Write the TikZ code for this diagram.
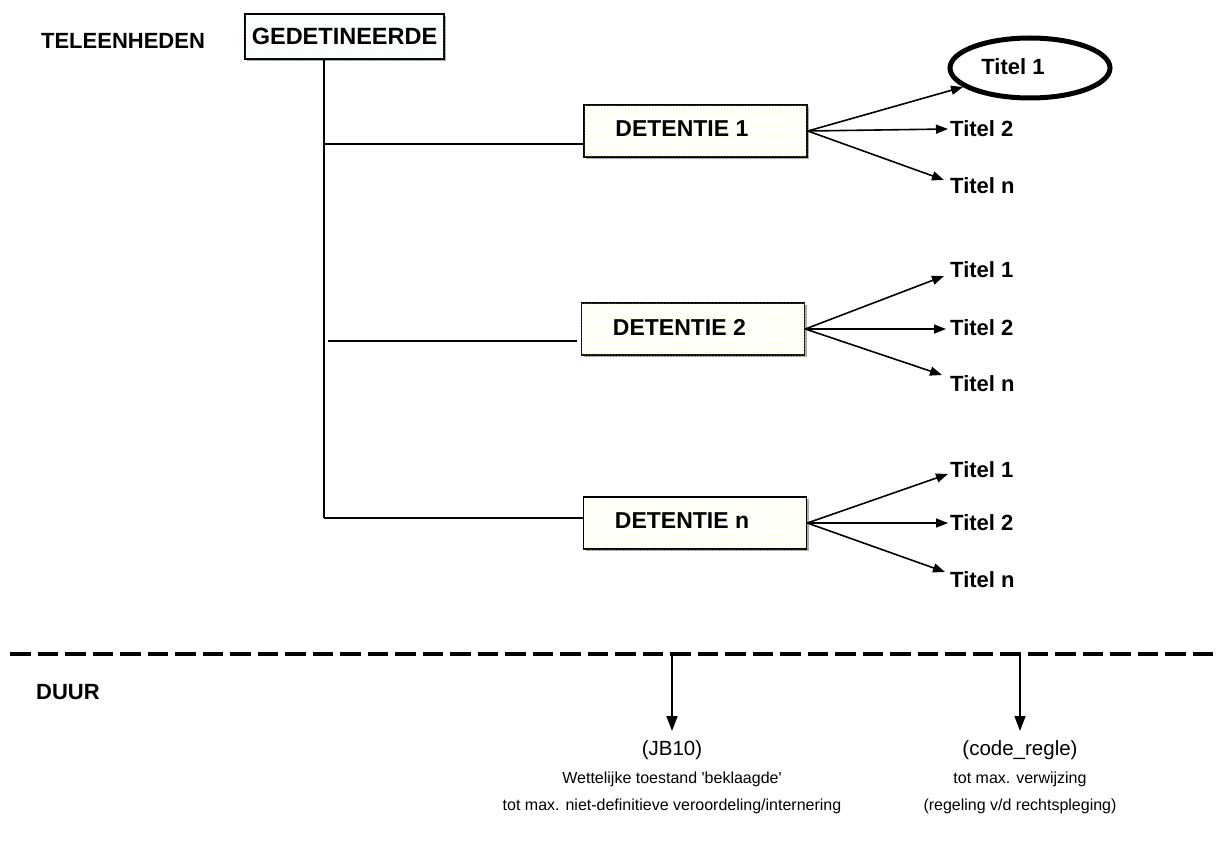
\documentclass[tikz,border=0pt]{standalone}
\usepackage{fontspec}
\setmainfont{Liberation Sans}
\usetikzlibrary{arrows.meta,shapes.geometric,patterns,shadows,calc}
\begin{document}
\begin{tikzpicture}[x=1pt,y=-1pt,
  lbl/.style={font=\fontsize{22}{26}\selectfont\bfseries, inner sep=2pt},
  detlbl/.style={font=\fontsize{23}{27}\selectfont\bfseries, inner sep=2pt},
  boxshadow/.style={drop shadow={shadow xshift=2pt, shadow yshift=-2pt, fill=gray!65, opacity=1}},
  gedbox/.style={draw, line width=1.6pt, fill=white, boxshadow,
     postaction={pattern=dots, pattern color=cyan!30},
     minimum width=199pt, minimum height=45pt, inner sep=0pt,
     font=\fontsize{23.5}{27}\selectfont\bfseries},
  detbox/.style={draw, line width=1.6pt, fill=white, boxshadow,
     postaction={pattern=dots, pattern color=yellow!45},
     minimum width=223pt, minimum height=52pt, inner sep=0pt},
  conn/.style={line width=1.6pt},
  arr/.style={line width=1.6pt, -{Triangle[length=12pt,width=9pt]}},
  darr/.style={line width=1.6pt, -{Triangle[length=15pt,width=11pt]}},
  bigtxt/.style={font=\fontsize{20.5}{24}\selectfont, inner sep=0pt},
  smalltxt/.style={font=\fontsize{16}{19}\selectfont, inner sep=0pt},
  dashsep/.style={line width=4.5pt, dash pattern=on 20.5pt off 7pt}
]
\useasboundingbox (0,0) rectangle (1220,853);

% header
\node[lbl] (tele) at (123,41) {TELEENHEDEN};
\node[gedbox] (ged) at (344.5,36.5) {GEDETINEERDE};

% detention boxes
\node[detbox] (det1) at (695.5,131) {};
\node[detbox] (det2) at (693,329) {};
\node[detbox] (detn) at (695,523) {};
\node[detlbl, anchor=west] (det1t) at ($(det1.west)+(30,-2)$) {DETENTIE 1};
\node[detlbl, anchor=west] (det2t) at ($(det2.west)+(30,-2)$) {DETENTIE 2};
\node[detlbl, anchor=west] (detnt) at ($(detn.west)+(30,-2)$) {DETENTIE n};

% trunk and branches
\coordinate (tr0) at (324,60);
\coordinate (tr1) at (324,144);
\coordinate (tr3) at (324,518);
\coordinate (b2s) at (328,341);
\coordinate (b2e) at (577,341);
\draw[conn] (tr0) -- (tr3);
\draw[conn] (tr1) -- (tr1 -| det1.west);
\draw[conn] (b2s) -- (b2e);
\draw[conn] (tr3) -- (tr3 -| detn.west);

% group 1
\node[draw, ellipse, line width=5pt, minimum width=160pt, minimum height=60pt, inner sep=0pt] (ell) at (1030,68) {};
\node[lbl] (t11) at (1013,67) {Titel 1};
\node[lbl, anchor=west] (t12) at (948,129) {Titel 2};
\node[lbl, anchor=west] (t1n) at (948,186) {Titel n};
\draw[arr] (det1.east) -- (ell);
\draw[arr] (det1.east) -- (t12.west);
\draw[arr] (det1.east) -- ($(t1n.west)+(-4,-6)$);

% group 2
\node[lbl, anchor=west] (t21) at (948,270) {Titel 1};
\node[lbl, anchor=west] (t22) at (948,328) {Titel 2};
\node[lbl, anchor=west] (t2n) at (948,384) {Titel n};
\draw[arr] (det2.east) -- ($(t21.west)+(-4,6)$);
\draw[arr] (det2.east) -- ($(t22.west)+(-2,1)$);
\draw[arr] (det2.east) -- ($(t2n.west)+(-6,-9)$);

% group 3
\node[lbl, anchor=west] (t31) at (948,470) {Titel 1};
\node[lbl, anchor=west] (t32) at (948,523) {Titel 2};
\node[lbl, anchor=west] (t3n) at (948,580) {Titel n};
\draw[arr] (detn.east) -- ($(t31.west)+(0,4)$);
\draw[arr] (detn.east) -- ($(t32.west)+(0,0)$);
\draw[arr] (detn.east) -- ($(t3n.west)+(-3,-8)$);

% separator
\coordinate (sepl) at (10,654);
\coordinate (sepr) at (1220,654);
\draw[dashsep] (sepl) -- (sepr);

\node[lbl] (duur) at (68,692) {DUUR};

% duration arrows
\coordinate (d1) at (672,654);
\coordinate (a1) at (672,731);
\coordinate (d2) at (1020,654);
\coordinate (a2) at (1020,731);
\draw[darr] (d1) -- (a1);
\draw[darr] (d2) -- (a2);

\node[bigtxt] (jb) at (672,750) {(JB10)};
\node[smalltxt] (jb2) at (672,779) {Wettelijke toestand \textquotesingle beklaagde\textquotesingle};
\node[smalltxt] (jb3) at (672,806) {tot max. niet-definitieve veroordeling/internering};

\node[bigtxt] (cr) at (1020,750) {(code\_regle)};
\node[smalltxt] (cr2) at (1020,779) {tot max. verwijzing};
\node[smalltxt] (cr3) at (1020,806) {(regeling v/d rechtspleging)};
\end{tikzpicture}
\end{document}
